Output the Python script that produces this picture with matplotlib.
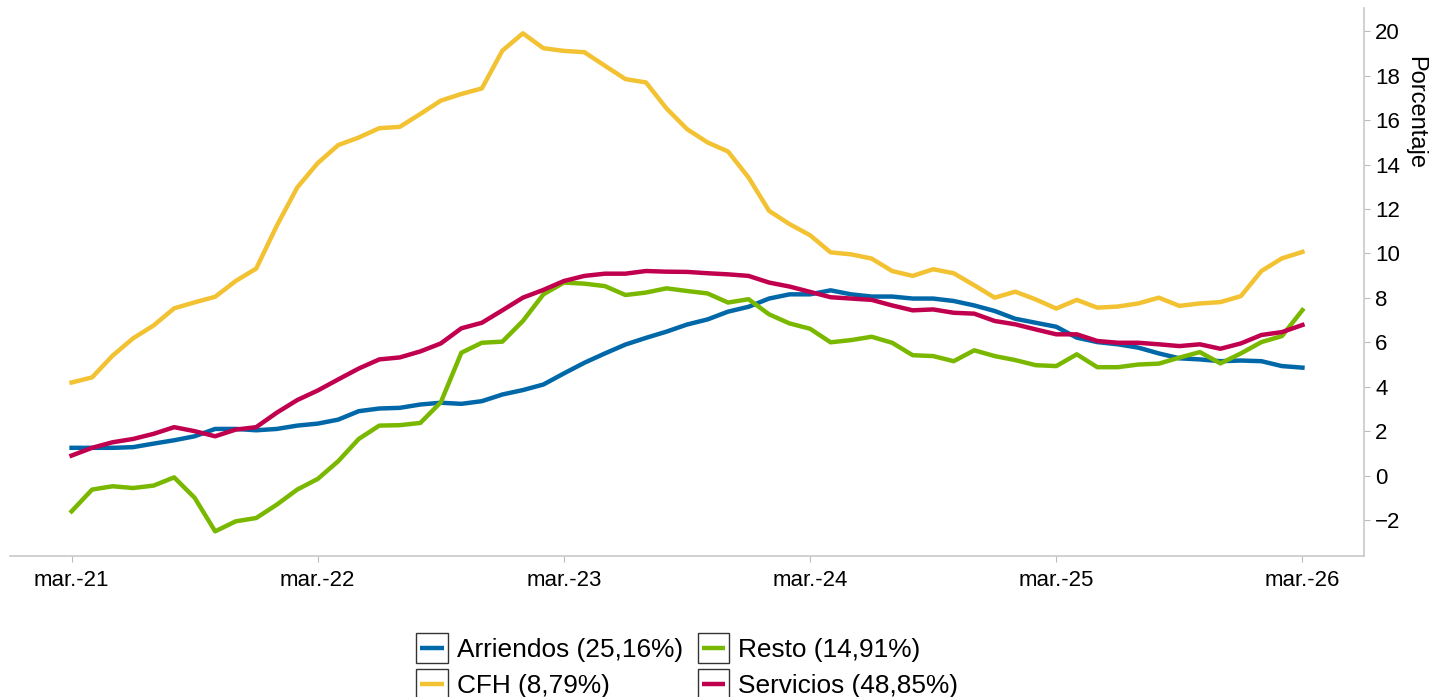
import matplotlib

matplotlib.use("Agg")
import matplotlib.pyplot as plt
from matplotlib.legend_handler import HandlerBase
from matplotlib.lines import Line2D
from matplotlib.patches import Rectangle

plt.rcParams["font.family"] = ["Liberation Sans", "DejaVu Sans"]

# monthly index 0 = mar.-21 ... 60 = mar.-26
TICK_POS = [0, 12, 24, 36, 48, 60]
TICK_LABELS = ["mar.-21", "mar.-22", "mar.-23", "mar.-24", "mar.-25", "mar.-26"]

arriendos = [1.25, 1.25, 1.25, 1.28, 1.44, 1.59, 1.77, 2.10, 2.10, 2.04, 2.10, 2.25,
             2.34, 2.52, 2.90, 3.02, 3.05, 3.20, 3.28, 3.23, 3.35, 3.65, 3.85, 4.10,
             4.60, 5.08, 5.50, 5.90, 6.20, 6.48, 6.80, 7.03, 7.38, 7.60, 7.97, 8.16,
             8.16, 8.34, 8.16, 8.06, 8.06, 7.97, 7.97, 7.86, 7.66, 7.41, 7.06, 6.88,
             6.70, 6.21, 6.01, 5.91, 5.76, 5.50, 5.28, 5.23, 5.15, 5.18, 5.15, 4.93, 4.86]
cfh = [4.19, 4.42, 5.40, 6.18, 6.76, 7.53, 7.80, 8.05, 8.76, 9.32, 11.24, 12.97,
       14.07, 14.88, 15.22, 15.64, 15.70, 16.28, 16.88, 17.18, 17.43, 19.13, 19.91, 19.24,
       19.12, 19.06, 18.45, 17.85, 17.70, 16.53, 15.60, 15.00, 14.59, 13.42, 11.92, 11.32,
       10.82, 10.05, 9.96, 9.77, 9.21, 8.99, 9.29, 9.11, 8.57, 8.01, 8.28, 7.93,
       7.52, 7.91, 7.56, 7.61, 7.75, 8.01, 7.64, 7.75, 7.81, 8.08, 9.21, 9.78, 10.07]
resto = [-1.61, -0.63, -0.48, -0.56, -0.45, -0.08, -1.00, -2.51, -2.06, -1.91, -1.31, -0.63,
         -0.15, 0.65, 1.65, 2.25, 2.27, 2.37, 3.30, 5.53, 5.98, 6.03, 6.96, 8.16,
         8.69, 8.64, 8.53, 8.13, 8.24, 8.43, 8.31, 8.20, 7.79, 7.94, 7.26, 6.85,
         6.61, 6.00, 6.10, 6.25, 5.98, 5.42, 5.38, 5.15, 5.64, 5.38, 5.20, 4.97,
         4.93, 5.46, 4.88, 4.88, 5.00, 5.04, 5.31, 5.56, 5.05, 5.50, 6.01, 6.28, 7.45]
servicios = [0.90, 1.25, 1.50, 1.65, 1.88, 2.18, 2.00, 1.77, 2.07, 2.18, 2.83, 3.40,
             3.83, 4.33, 4.82, 5.23, 5.32, 5.59, 5.95, 6.63, 6.88, 7.44, 8.01, 8.36,
             8.76, 8.99, 9.09, 9.09, 9.21, 9.18, 9.17, 9.11, 9.06, 8.99, 8.69, 8.51,
             8.27, 8.03, 7.97, 7.91, 7.66, 7.44, 7.48, 7.33, 7.29, 6.96, 6.81, 6.58,
             6.36, 6.36, 6.06, 5.98, 5.98, 5.91, 5.83, 5.91, 5.71, 5.95, 6.33, 6.46, 6.78]

SERIES = [
    ("Arriendos (25,16%)", arriendos, "#0068a8"),
    ("CFH (8,79%)", cfh, "#f2c232"),
    ("Resto (14,91%)", resto, "#7ab800"),
    ("Servicios (48,85%)", servicios, "#c0004e"),
]


class BoxLine(HandlerBase):
    # legend key: outlined square with a short coloured bar inside
    def create_artists(self, legend, orig_handle, xdescent, ydescent,
                       width, height, fontsize, trans):
        x0 = -xdescent
        yc = -ydescent + height / 2
        side = width * 0.95
        box = Rectangle((x0, yc - side / 2), width, side,
                        facecolor="white", edgecolor="#333333", lw=1.0, transform=trans)
        bar = Line2D([x0 + 0.13 * width, x0 + 0.87 * width], [yc, yc],
                     color=orig_handle.get_color(), lw=3.2, transform=trans,
                     solid_capstyle="butt")
        return [box, bar]


def main() -> None:
    fig = plt.figure(figsize=(14.32, 6.97), dpi=100)
    ax = fig.add_axes([0.007, 0.2023, 0.9455, 0.7862])
    # CFH first so the other lines sit on top
    handles = {}
    for k in [1, 0, 2, 3]:
        label, vals, color = SERIES[k]
        (ln,) = ax.plot(range(len(vals)), vals, color=color, lw=3.2, label=label)
        handles[label] = ln

    ax.set_xlim(-3, 63)
    ax.set_ylim(-3.62, 21.05)
    ax.set_xticks(TICK_POS)
    ax.set_xticklabels(TICK_LABELS, fontsize=16)
    ax.set_yticks(range(-2, 21, 2))
    ax.yaxis.tick_right()
    ax.tick_params(axis="y", labelsize=16, length=4, color="#bbbbbb", pad=4)
    ax.tick_params(axis="x", length=4, color="#bbbbbb", pad=6)
    ax.text(1.0375, 0.81, "Porcentaje", rotation=-90, fontsize=17,
            ha="center", va="center", transform=ax.transAxes)
    for s in ("top", "left"):
        ax.spines[s].set_visible(False)
    for s in ("bottom", "right"):
        ax.spines[s].set_color("#c8c8c8")
        ax.spines[s].set_linewidth(1.2)

    labels = [s[0] for s in SERIES]
    fig.legend([handles[l] for l in labels], labels, ncol=2,
               loc="upper center", bbox_to_anchor=(0.480, 0.114),
               frameon=False, fontsize=18.9, handlelength=1.2, handleheight=1.0,
               handletextpad=0.35, columnspacing=0.55, labelspacing=0.42,
               borderpad=0.2, handler_map={Line2D: BoxLine()})
    fig.savefig("out.png", dpi=100)


if __name__ == "__main__":
    main()
